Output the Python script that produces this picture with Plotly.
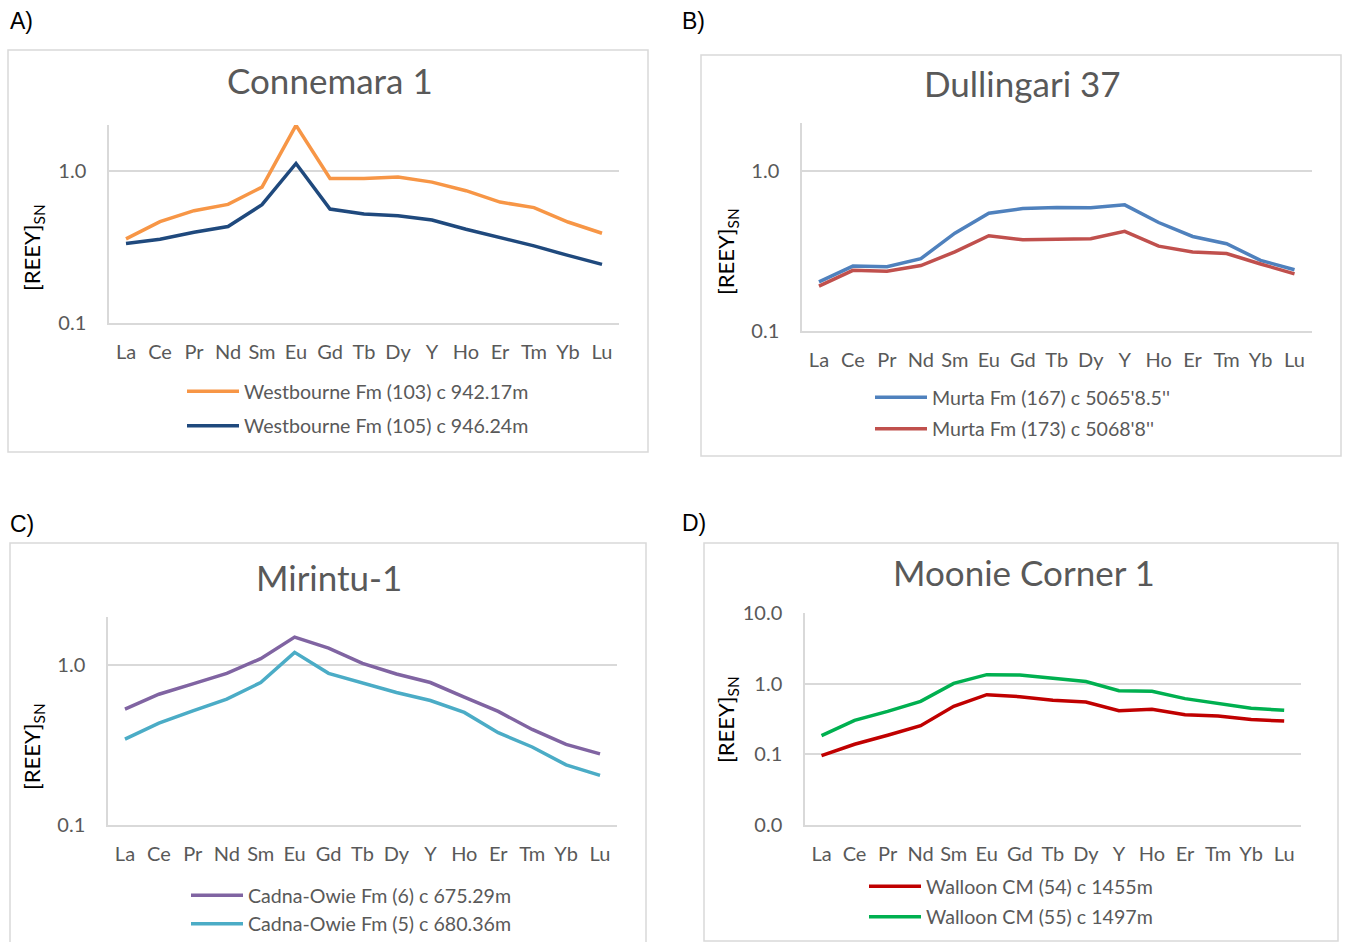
import plotly.graph_objects as go

W, H = 1350, 942

elements = ["La", "Ce", "Pr", "Nd", "Sm", "Eu", "Gd", "Tb", "Dy", "Y", "Ho", "Er", "Tm", "Yb", "Lu"]

# Panel A - Connemara 1
a_title = "Connemara 1"
a_names = ["Westbourne Fm (103) c 942.17m", "Westbourne Fm (105) c 946.24m"]
a_103 = [0.357, 0.463, 0.547, 0.602, 0.782, 1.99, 0.891, 0.891, 0.909, 0.843, 0.740, 0.623, 0.573, 0.461, 0.389]
a_105 = [0.333, 0.355, 0.395, 0.430, 0.599, 1.117, 0.561, 0.520, 0.507, 0.475, 0.413, 0.364, 0.321, 0.278, 0.243]

# Panel B - Dullingari 37
b_title = "Dullingari 37"
b_names = ["Murta Fm (167) c 5065'8.5''", "Murta Fm (173) c 5068'8''"]
b_167 = [0.203, 0.255, 0.253, 0.284, 0.410, 0.547, 0.585, 0.594, 0.591, 0.617, 0.478, 0.391, 0.352, 0.277, 0.242]
b_173 = [0.191, 0.240, 0.237, 0.257, 0.313, 0.395, 0.373, 0.377, 0.378, 0.421, 0.340, 0.313, 0.306, 0.263, 0.228]

# Panel C - Mirintu-1
c_title = "Mirintu-1"
c_names = ["Cadna-Owie Fm (6) c 675.29m", "Cadna-Owie Fm (5) c 680.36m"]
c_6 = [0.531, 0.657, 0.762, 0.887, 1.095, 1.493, 1.275, 1.024, 0.879, 0.777, 0.630, 0.513, 0.396, 0.320, 0.279]
c_5 = [0.345, 0.434, 0.518, 0.612, 0.777, 1.199, 0.887, 0.777, 0.673, 0.600, 0.506, 0.378, 0.308, 0.238, 0.205]

# Panel D - Moonie Corner 1
d_title = "Moonie Corner 1"
d_names = ["Walloon CM (54) c 1455m", "Walloon CM (55) c 1497m"]
d_54 = [0.0957, 0.139, 0.186, 0.254, 0.478, 0.699, 0.655, 0.581, 0.550, 0.415, 0.434, 0.364, 0.349, 0.310, 0.296]
d_55 = [0.184, 0.303, 0.406, 0.562, 1.01, 1.34, 1.33, 1.19, 1.07, 0.796, 0.779, 0.614, 0.521, 0.448, 0.419]

ytick_abc = [0.1, 1.0]
ytext_abc = ["0.1", "1.0"]
ytick_d = [0.01, 0.1, 1.0, 10.0]
ytext_d = ["0.0", "0.1", "1.0", "10.0"]
panel_labels = ["A)", "B)", "C)", "D)"]
y_title = "[REEY]<sub>SN</sub>"

FONT = "Lato"
TXT = "#595959"
GRID = "#D9D9D9"


def px(x):
    return x / W


def py(y):
    return 1 - y / H


fig = go.Figure()

panels = [
    dict(vals=[a_103, a_105], colors=["#F79646", "#1F497D"], names=a_names, title=a_title,
         plot=(109, 619, 125, 323), yr=[-1, 0.30103], tv=ytick_abc, tt=ytext_abc,
         tpos=(330, 80), leg=(182, 372), gap=6, ytp=(33, 248), box=(8, 50, 648, 452), lab=(8, 21)),
    dict(vals=[b_167, b_173], colors=["#4F81BD", "#C0504D"], names=b_names, title=b_title,
         plot=(802, 1311.5, 123.3, 331), yr=[-1, 0.30103], tv=ytick_abc, tt=ytext_abc,
         tpos=(1022, 83), leg=(870, 378), gap=3, ytp=(727, 252), box=(701, 55, 1341, 456), lab=(680, 21)),
    dict(vals=[c_6, c_5], colors=["#8064A2", "#4BACC6"], names=c_names, title=c_title,
         plot=(108, 617, 616.7, 825.3), yr=[-1, 0.30103], tv=ytick_abc, tt=ytext_abc,
         tpos=(329, 577), leg=(186, 876), gap=0, ytp=(33, 747), box=(10, 543, 646, 960), lab=(8, 524)),
    dict(vals=[d_54, d_55], colors=["#C00000", "#00B050"], names=d_names, title=d_title,
         plot=(805, 1300.7, 613, 825), yr=[-2, 1], tv=ytick_d, tt=ytext_d,
         tpos=(1024, 572), leg=(864, 867), gap=2, ytp=(727, 720), box=(704, 543, 1338, 941), lab=(680, 523)),
]

layout = dict(
    width=W, height=H, margin=dict(l=0, r=0, t=0, b=0, autoexpand=False),
    paper_bgcolor="white", plot_bgcolor="white", showlegend=True,
    font=dict(family=FONT, color=TXT),
)
annotations = []
shapes = []

for i, p in enumerate(panels):
    n = "" if i == 0 else str(i + 1)
    xa, ya = "xaxis" + n, "yaxis" + n
    xr, yr_ = "x" + n, "y" + n
    lg = "legend" + n
    x0, x1, yt, yb = p["plot"]
    for k in range(2):
        fig.add_trace(go.Scatter(
            x=elements, y=p["vals"][k], mode="lines", name=p["names"][k],
            line=dict(color=p["colors"][k], width=3.5),
            xaxis=xr, yaxis=yr_, legend=lg, legendgroup=f"g{i}{k}",
        ))
    layout[xa] = dict(
        domain=[px(x0), px(x1)], anchor=yr_, type="category",
        categoryorder="array", categoryarray=elements, range=[-0.5, 14.5],
        showline=True, linecolor=GRID, linewidth=1.5, showgrid=False,
        ticks="outside", ticklen=10, tickcolor="rgba(0,0,0,0)",
        tickfont=dict(family=FONT, size=20, color=TXT), fixedrange=True,
    )
    layout[ya] = dict(
        domain=[py(yb), py(yt)], anchor=xr, type="log", range=p["yr"],
        tickvals=p["tv"], ticktext=p["tt"],
        showline=True, linecolor=GRID, linewidth=1.5,
        showgrid=True, gridcolor=GRID, gridwidth=1.5,
        ticks="outside", ticklen=17, tickcolor="rgba(0,0,0,0)",
        tickfont=dict(family=FONT, size=20, color=TXT), fixedrange=True,
    )
    lx, ly = p["leg"]
    layout[lg] = dict(
        x=px(lx), y=py(ly), xanchor="left", yanchor="top",
        orientation="v", bgcolor="rgba(0,0,0,0)",
        font=dict(family=FONT, size=19.6, color=TXT),
        tracegroupgap=p["gap"], itemwidth=52,
    )
    tx, ty = p["tpos"]
    annotations.append(dict(
        text=p["title"], x=px(tx), y=py(ty), xref="paper", yref="paper",
        xanchor="center", yanchor="middle", showarrow=False,
        font=dict(family=FONT, size=35, color=TXT),
    ))
    yx, yy = p["ytp"]
    annotations.append(dict(
        text=y_title, x=px(yx), y=py(yy), xref="paper", yref="paper",
        xanchor="center", yanchor="middle", showarrow=False, textangle=-90,
        font=dict(family=FONT, size=22, color="black"),
    ))
    lbx, lby = p["lab"]
    annotations.append(dict(
        text=panel_labels[i], x=px(lbx), y=py(lby), xref="paper", yref="paper",
        xanchor="left", yanchor="middle", showarrow=False,
        font=dict(family="Liberation Sans", size=23, color="black"),
    ))
    bx0, by0, bx1, by1 = p["box"]
    shapes.append(dict(
        type="rect", xref="paper", yref="paper",
        x0=px(bx0), x1=px(bx1), y0=py(by1), y1=py(by0),
        line=dict(color=GRID, width=1.5), fillcolor="rgba(0,0,0,0)", layer="below",
    ))

layout["annotations"] = annotations
layout["shapes"] = shapes
fig.update_layout(**layout)
fig.write_html("out.html")
